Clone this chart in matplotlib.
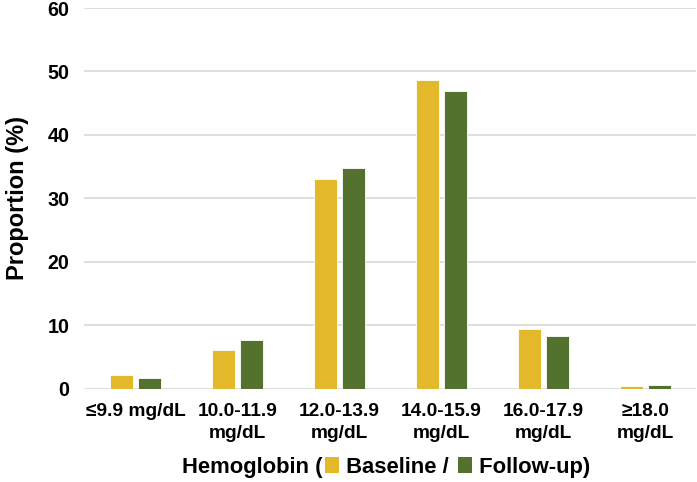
import numpy as np
import matplotlib
matplotlib.use("Agg")
import matplotlib.pyplot as plt
from matplotlib.offsetbox import TextArea, HPacker, AnchoredOffsetbox, DrawingArea
from matplotlib.patches import Rectangle

plt.rcParams['font.family'] = ['Liberation Sans', 'DejaVu Sans']

# Données
categories = ["≤9.9 mg/dL", "10.0-11.9\nmg/dL", "12.0-13.9\nmg/dL",
              "14.0-15.9\nmg/dL", "16.0-17.9\nmg/dL", "≥18.0\nmg/dL"]
baseline = [2.2, 6.1, 33.1, 48.7, 9.4, 0.4]
follow_up = [1.7, 7.7, 34.8, 47.0, 8.3, 0.6]
yticks = [0, 10, 20, 30, 40, 50, 60]

col_base = "#E3B82A"
col_follow = "#52722E"

fig = plt.figure(figsize=(6.97, 4.82), dpi=100)
ax = fig.add_axes([0.1212, 0.193, 0.878, 0.7904])

x = np.arange(len(categories))
w = 0.225
ax.bar(x - 0.138, baseline, w, color=col_base, edgecolor="white", linewidth=0.6, zorder=3)
ax.bar(x + 0.138, follow_up, w, color=col_follow, edgecolor="white", linewidth=0.6, zorder=3)

ax.set_xlim(-0.5, len(categories) - 0.5)
ax.set_ylim(0, 60)
ax.set_yticks(yticks)
ax.set_xticks(x)
ax.set_xticklabels(categories, fontsize=13.8, fontweight="bold", linespacing=1.4)
ax.tick_params(axis="y", labelsize=14.2, length=0, pad=11)
ax.tick_params(axis="x", length=0, pad=10)
for lab in ax.get_yticklabels():
    lab.set_fontweight("bold")

ax.grid(axis="y", color="#D9D9D9", linewidth=1.2, zorder=0)
for s in ax.spines.values():
    s.set_visible(False)

ax.set_ylabel("Proportion (%)", fontsize=17, fontweight="bold", labelpad=13)


# petit carré coloré pour la légende
def square(color):
    da = DrawingArea(13, 12, 0, 0)
    da.add_artist(Rectangle((2, 0), 10, 12, facecolor=color, edgecolor="none"))
    return da


# Titre de l'axe x avec légende intégrée
props = dict(fontsize=15.8, fontweight="bold", color="black")
parts = [
    TextArea("Hemoglobin (", textprops=props),
    square(col_base),
    TextArea(" Baseline / ", textprops=props),
    square(col_follow),
    TextArea(" Follow-up)", textprops=props),
]
box = HPacker(children=parts, align="baseline", pad=0, sep=0)
anch = AnchoredOffsetbox(loc="center", child=box, pad=0, frameon=False,
                         bbox_to_anchor=(0.554, 0.03), bbox_transform=fig.transFigure,
                         borderpad=0)
fig.add_artist(anch)

fig.savefig("out.png", dpi=100)
